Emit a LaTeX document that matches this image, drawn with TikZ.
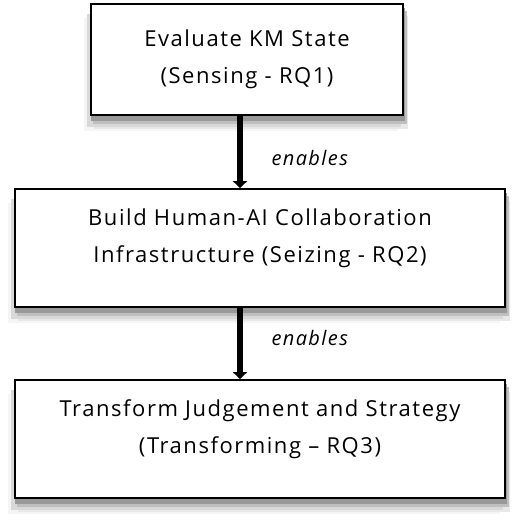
\documentclass[tikz,border=0pt]{standalone}
\usepackage{fontspec}
\setmainfont{Open Sans}[LetterSpace=7]
\usepackage{tikz}
\usetikzlibrary{arrows.meta, positioning, backgrounds}
\definecolor{shadowA}{gray}{0.96}
\definecolor{shadowB}{gray}{0.91}
\definecolor{shadowC}{gray}{0.85}
\definecolor{shadowD}{gray}{0.75}
\definecolor{shadowE}{gray}{0.60}

\begin{document}
\begin{tikzpicture}[x=1pt,y=1pt,
    stagebox/.style={draw=black, line width=1.8pt, fill=white, rectangle},
    stagetext/.style={align=center, font=\fontsize{22}{37}\selectfont},
    flow/.style={line width=6pt, -{Triangle[width=14pt, length=7pt]}},
    flowlabel/.style={anchor=west, font=\itshape\fontsize{20}{23}\selectfont}]
        \useasboundingbox (0,0) rectangle (520,-524);
        \node (sense) [stagebox, minimum width=312pt, minimum height=111pt] at (247,-59.5) {};
        \node (seize) [stagebox, minimum width=490pt, minimum height=118pt] at (260,-248) {};
        \node (trans) [stagebox, minimum width=490pt, minimum height=118pt] at (260,-439) {};
        % soft shadow under each box
        \begin{scope}[on background layer]
          \foreach \n in {sense,seize,trans}
            \foreach \dx/\dy/\tone in {-6/-15/shadowA, 4/-13/shadowB, -3/-11/shadowC, 3/-8/shadowD, 1/-5/shadowE}
              \fill [fill=\tone] ([shift={(\dx,\dy)}]\n.south west) rectangle ([shift={(\dx,\dy)}]\n.north east);
        \end{scope}
        \node [stagetext] at (sense.center) {Evaluate KM State\\(Sensing - RQ1)};
        \node [stagetext] at ([yshift=10pt]seize.center) {Build Human-AI Collaboration\\Infrastructure (Seizing - RQ2)};
        \node [stagetext] at ([yshift=10pt]trans.center) {Transform Judgement and Strategy\\(Transforming -- RQ3)};
        \coordinate (axis) at (240,0);
        \draw [flow] (sense.south -| axis) -- (seize.north -| axis);
        \draw [flow] (seize.south -| axis) -- (trans.north -| axis);
        \node [flowlabel] at (268,-158) {enables};
        \node [flowlabel] at (268,-338) {enables};
      \end{tikzpicture}
\end{document}
